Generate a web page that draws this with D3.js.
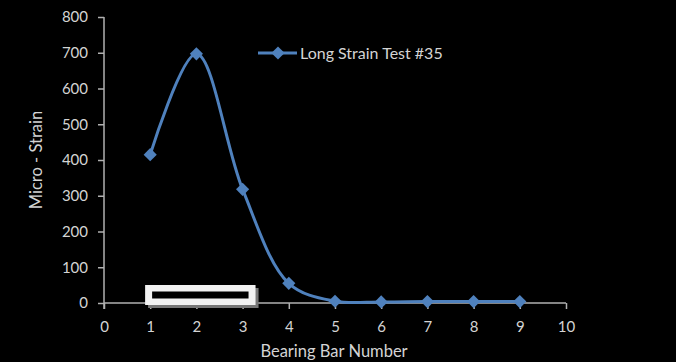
<!DOCTYPE html>
<html>
<head>
<meta charset="utf-8">
<script src="https://d3js.org/d3.v7.min.js"></script>
<style>
    body { margin: 0; background: #000; }
    text { font-family: Lato, "Open Sans", sans-serif; fill: #d4d4d4; }
</style>
</head>
<body>
<svg id="chart" width="676" height="362"></svg>
<script>
    // bearing bar number vs micro-strain
    var bars = [1, 2, 3, 4, 5, 6, 7, 8, 9];
    var strain = [415, 697, 318, 55, 5, 3, 4, 4, 4];
    var seriesName = "Long Strain Test #35";
    var xTicks = [0, 1, 2, 3, 4, 5, 6, 7, 8, 9, 10];
    var yTicks = [0, 100, 200, 300, 400, 500, 600, 700, 800];
    // bearing location marker (from bar to bar)
    var bearing = [0.89, 3.28];

    var svg = d3.select("#chart");
    var blue = "#4f81bd";
    var axisColor = "#b0b0b0";

    var x = d3.scaleLinear().domain([0, 10]).range([104, 566]);
    var y = d3.scaleLinear().domain([0, 800]).range([303, 17]);

    // y axis
    var yAxis = svg.append("g")
        .attr("transform", "translate(104,0)")
        .call(d3.axisLeft(y).tickValues(yTicks).tickSize(6).tickPadding(10));
    yAxis.select(".domain").remove();
    yAxis.append("line")
        .attr("x1", 0).attr("x2", 0)
        .attr("y1", y(800)).attr("y2", y(0) + 6);
    yAxis.selectAll("line").attr("stroke", axisColor).attr("stroke-width", 1.5);
    yAxis.selectAll("text").attr("fill", "#d4d4d4").style("font-size", "15px").style("font-family", "Lato");

    // x axis
    var xAxis = svg.append("g")
        .attr("transform", "translate(0,303)")
        .call(d3.axisBottom(x).tickValues(xTicks).tickSize(6).tickPadding(12));
    xAxis.select(".domain").remove();
    xAxis.append("line")
        .attr("x1", x(0)).attr("x2", x(10))
        .attr("y1", 0).attr("y2", 0);
    xAxis.selectAll("line").attr("stroke", axisColor).attr("stroke-width", 1.5);
    xAxis.selectAll("text").attr("fill", "#d4d4d4").style("font-size", "15px").style("font-family", "Lato");

    // bearing box
    var bx0 = x(bearing[0]), bx1 = x(bearing[1]);
    svg.append("rect")
        .attr("x", bx0 + 3).attr("y", y(0) - 15)
        .attr("width", bx1 - bx0).attr("height", 20)
        .attr("fill", "#777");
    svg.append("rect")
        .attr("x", bx0).attr("y", y(0) - 18)
        .attr("width", bx1 - bx0).attr("height", 20)
        .attr("fill", "#f2f2f2");
    svg.append("rect")
        .attr("x", bx0 + 7).attr("y", y(0) - 11.5)
        .attr("width", bx1 - bx0 - 14).attr("height", 7)
        .attr("fill", "#000");

    // series
    var pts = bars.map(function (b, i) { return [b, strain[i]]; });
    var line = d3.line()
        .x(function (d) { return x(d[0]); })
        .y(function (d) { return y(d[1]); })
        .curve(d3.curveCatmullRom.alpha(0.5));
    svg.append("path")
        .datum(pts)
        .attr("d", line)
        .attr("fill", "none")
        .attr("stroke", blue)
        .attr("stroke-width", 3);

    var diamond = d3.symbol().type(d3.symbolDiamond2).size(110);
    svg.selectAll(".pt")
        .data(pts)
        .enter().append("path")
        .attr("class", "pt")
        .attr("d", diamond)
        .attr("transform", function (d) { return "translate(" + x(d[0]) + "," + y(d[1]) + ")"; })
        .attr("fill", blue);

    // legend
    var lg = svg.append("g").attr("transform", "translate(258,53)");
    lg.append("line").attr("x1", 0).attr("x2", 39).attr("y1", 0).attr("y2", 0)
        .attr("stroke", blue).attr("stroke-width", 3);
    lg.append("path").attr("d", diamond).attr("transform", "translate(20,0)").attr("fill", blue);
    lg.append("text").attr("x", 42).attr("y", 6)
        .style("font-size", "16px")
        .text(seriesName);

    // axis titles
    svg.append("text")
        .attr("x", 334).attr("y", 357)
        .attr("text-anchor", "middle")
        .style("font-size", "16.5px")
        .text("Bearing Bar Number");
    svg.append("text")
        .attr("transform", "translate(42,160) rotate(-90)")
        .attr("text-anchor", "middle")
        .style("font-size", "16.5px")
        .text("Micro - Strain");
</script>
</body>
</html>
